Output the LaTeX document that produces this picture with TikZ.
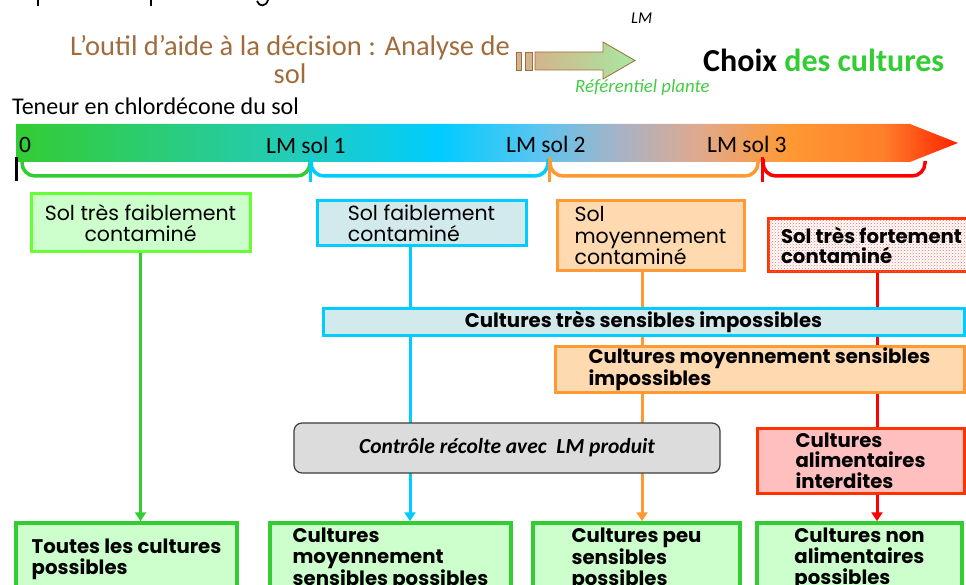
\documentclass[tikz,border=0pt]{standalone}
\usepackage{fontspec}
\setmainfont{Carlito}
\newfontfamily\gothic{Poppins}
\usetikzlibrary{arrows.meta,patterns}
\definecolor{gA}{HTML}{33CC33}
\definecolor{gB}{HTML}{22CCBB}
\definecolor{gC}{HTML}{00CCFF}
\definecolor{gD}{HTML}{5CC4F0}
\definecolor{gE}{HTML}{A6B3C6}
\definecolor{gF}{HTML}{E0A98C}
\definecolor{gG}{HTML}{FF9933}
\definecolor{gH}{HTML}{FF7F2A}
\definecolor{gI}{HTML}{FF2200}
\definecolor{cgreen}{HTML}{33CC33}
\definecolor{lime}{HTML}{66FF33}
\definecolor{palegreen}{HTML}{CCFFCC}
\definecolor{ccyan}{HTML}{00CCFF}
\definecolor{palecyan}{HTML}{D3EAED}
\definecolor{corange}{HTML}{FF9933}
\definecolor{paleorange}{HTML}{FFD9B0}
\definecolor{cred}{HTML}{FF0000}
\definecolor{redborder}{HTML}{FF3300}
\definecolor{palered}{HTML}{FFBFBF}
\definecolor{dotred}{HTML}{FF7060}
\definecolor{greyfill}{HTML}{DCDCDC}
\definecolor{greyborder}{HTML}{3C3C3C}
\definecolor{titlebrown}{HTML}{A06C3C}
\definecolor{tan}{HTML}{D4B48C}
\definecolor{lgreen}{HTML}{A8E8A0}
\definecolor{refgreen}{HTML}{44CC44}
\pgfdeclarehorizontalshading{barshade}{100bp}{color(0bp)=(gA); color(25bp)=(gA); color(40bp)=(gB); color(47.5bp)=(gC); color(52.8bp)=(gD); color(57bp)=(gE); color(61.3bp)=(gF); color(66bp)=(gG); color(71bp)=(gH); color(75bp)=(gI); color(100bp)=(gI)}
\pgfdeclarelayer{bg}
\pgfsetlayers{bg,main}
\tikzset{
  boxbase/.style={inner sep=0pt, align=left, line width=3pt},
  regtext/.style={font=\gothic\fontsize{20.5}{21.5}\selectfont},
  boldtext/.style={font=\gothic\bfseries\fontsize{19.7}{20.7}\selectfont},
  topgreen/.style={boxbase, regtext, draw=lime, fill=palegreen, align=center},
  topcyan/.style={boxbase, regtext, draw=ccyan, fill=palecyan},
  toporange/.style={boxbase, regtext, draw=corange, fill=paleorange},
  topred/.style={boxbase, boldtext, draw=redborder, fill=white, postaction={pattern=crosshatch dots, pattern color=dotred}},
  barcyan/.style={boxbase, boldtext, draw=ccyan, fill=palecyan},
  barorange/.style={boxbase, boldtext, draw=corange, fill=paleorange},
  greybox/.style={inner sep=0pt, draw=greyborder, fill=greyfill, line width=1.2pt, rounded corners=8pt, font=\itshape\bfseries\fontsize{21.5}{24}\selectfont},
  alimbox/.style={boxbase, boldtext, draw=redborder, fill=palered},
  resultbox/.style={boxbase, boldtext, draw=cgreen, fill=palegreen, line width=3.5pt},
  vline/.style={line width=3pt},
  varrow/.style={line width=3pt, -{Triangle[width=11pt,length=9pt]}},
  brace/.style={line width=3.5pt, rounded corners=13pt},
  tick/.style={line width=3pt},
  lbl/.style={inner sep=0pt, anchor=base west, font=\fontsize{23.5}{26}\selectfont},
}
\begin{document}
\begin{tikzpicture}[x=1pt,y=-1pt]
\useasboundingbox (0,0) rectangle (966,585);
\clip (0,0) rectangle (966,585);

% cut-off descenders at the very top
\draw[line width=2pt] (38,0) -- (38,6);
\draw[line width=2pt] (151,0) -- (151,6);
\draw[line width=1.8pt] (257,1) .. controls (259,7) and (266,7) .. (268,0);

% title
\node[inner sep=0pt, anchor=base, align=center, text=titlebrown, font=\fontsize{28.5}{28.5}\selectfont] (title) at (290,84) {L’outil d’aide à la décision : Analyse de\\sol};

% title arrow
\shadedraw[left color=tan, right color=lgreen, draw=titlebrown, line width=0.8pt] (535,52) -- (603,52) -- (603,42) -- (635,60.5) -- (603,79) -- (603,70) -- (535,70) -- cycle;
\filldraw[fill=tan, draw=titlebrown, line width=0.8pt] (516,52) rectangle (521,70);
\filldraw[fill=tan, draw=titlebrown, line width=0.8pt] (525,52) rectangle (532,70);
\node[inner sep=0pt, anchor=base west, font=\itshape\fontsize{16.5}{18}\selectfont] (lm) at (631,24) {LM};
\node[inner sep=0pt, anchor=base west, text=refgreen, font=\itshape\fontsize{18.8}{20}\selectfont] (ref) at (575,93) {Référentiel plante};

\node[inner sep=0pt, anchor=base west, font=\bfseries\fontsize{32}{34}\selectfont] (choix) at (703,72) {Choix \textcolor{cgreen}{des cultures}};

\node[inner sep=0pt, anchor=base west, font=\fontsize{24}{26}\selectfont] (teneur) at (12,115) {Teneur en chlordécone du sol};

% gradient bar
\shade[shading=barshade] (16,124) -- (910,124) -- (958,143) -- (910,162) -- (16,162) -- cycle;
\node[lbl] (l0) at (19,153) {0};
\node[lbl] (l1) at (266,154) {LM sol 1};
\node[lbl] (l2) at (506,153) {LM sol 2};
\node[lbl] (l3) at (707,153) {LM sol 3};

% braces and ticks
\draw[brace, cgreen] (22,159) -- (22,176) -- (310,176) -- (310,159);
\draw[brace, ccyan] (311,159) -- (311,176) -- (548,176) -- (548,159);
\draw[brace, corange] (550,159) -- (550,176) -- (758,176) -- (758,159);
\draw[brace, cred] (763,159) -- (763,176) -- (925,176) -- (925,161);
\draw[tick, black] (16,157) -- (16,181);
\draw[tick, ccyan] (310,157) -- (310,182);
\draw[tick, corange] (549,157) -- (549,182);
\draw[tick, cred] (762,157) -- (762,182);

% top boxes
\node[topgreen, minimum width=219pt, minimum height=58pt] (g1) at (140.5,223) {Sol très faiblement\\contaminé};
\node[topcyan, minimum width=209pt, minimum height=45pt] (c1) at (421.5,223.5) {Sol faiblement\\contaminé};
\node[toporange, minimum width=187pt, minimum height=70pt] (o1) at (650.5,236) {Sol\\moyennement\\contaminé};
\node[topred, minimum width=207pt, minimum height=53pt] (r1) at (871.5,245.5) {Sol très fortement\\contaminé};

% bars
\node[barcyan, minimum width=641pt, minimum height=27pt] (bar1) at (643.5,321.5) {Cultures très sensibles impossibles};
\node[barorange, minimum width=409pt, minimum height=46pt] (bar2) at (759.5,369) {Cultures moyennement sensibles\\impossibles};
\node[greybox, minimum width=426pt, minimum height=50pt] (grey) at (507,448) {Contrôle récolte avec\ \ LM produit};
\node[alimbox, minimum width=207pt, minimum height=65pt] (alim) at (860.5,460.5) {Cultures\\alimentaires\\interdites};

% result boxes
\node[resultbox, minimum width=221pt, minimum height=72pt] (b1) at (126.5,559) {Toutes les cultures\\possibles};
\node[resultbox, minimum width=241pt, minimum height=72pt] (b2) at (390.5,559) {Cultures\\moyennement\\sensibles possibles};
\node[resultbox, minimum width=207pt, minimum height=72pt] (b3) at (636.5,559) {Cultures peu\\sensibles\\possibles};
\node[resultbox, minimum width=205pt, minimum height=72pt] (b4) at (859.5,559) {Cultures non\\alimentaires\\possibles};

% connectors
\begin{pgfonlayer}{bg}
\draw[varrow, cgreen] (g1.south) -- (g1.south |- b1.north);
\draw[varrow, ccyan] ([xshift=-11.5pt]c1.south) -- ([xshift=-11.5pt]c1.south |- b2.north);
\draw[varrow, corange] ([xshift=-8.5pt]o1.south) -- ([xshift=-8.5pt]o1.south |- b3.north);
\draw[vline, cred] ([xshift=5.5pt]r1.south) -- ([xshift=5.5pt]r1.south |- alim.north);
\end{pgfonlayer}
\draw[varrow, cred] ([xshift=16.5pt]alim.south) -- ([xshift=16.5pt]alim.south |- b4.north);
\end{tikzpicture}
\end{document}
